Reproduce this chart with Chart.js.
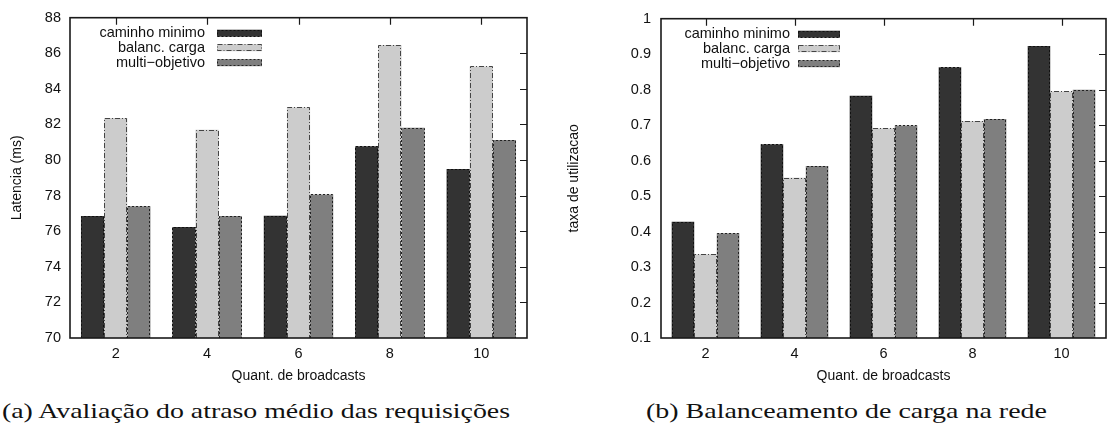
<!DOCTYPE html>
<html><head><meta charset="utf-8">
<script src="https://cdn.jsdelivr.net/npm/chart.js@4/dist/chart.umd.min.js"></script>
<style>
html,body{margin:0;padding:0;background:#fff}
body{width:1107px;height:428px;overflow:hidden;position:relative}
#c1{position:absolute;left:0;top:0}
#c2{position:absolute;left:555px;top:0}
.cap{position:absolute;top:401px;font-family:"Liberation Serif","Times New Roman",serif;font-size:21px;line-height:21px;color:#111;white-space:nowrap;transform-origin:0 0}
</style></head><body>
<canvas id="c1" width="545" height="390"></canvas>
<canvas id="c2" width="552" height="390"></canvas>
<div class="cap" id="capA">(a) Avaliação do atraso médio das requisições</div>
<div class="cap" id="capB">(b) Balanceamento de carga na rede</div>
<script>
// ---- data ----
const categories = ['2', '4', '6', '8', '10'];
const seriesNames = ['caminho minimo', 'balanc. carga', 'multi\u2212objetivo'];
const latCaminho = [76.85, 76.24, 76.87, 80.78, 79.50];
const latBalanc  = [82.37, 81.70, 82.97, 86.47, 85.26];
const latMulti   = [77.41, 76.85, 78.07, 81.81, 81.13];
const taxaCaminho = [0.428, 0.646, 0.783, 0.863, 0.923];
const taxaBalanc  = [0.336, 0.552, 0.691, 0.712, 0.795];
const taxaMulti   = [0.395, 0.585, 0.699, 0.717, 0.800];
const latTickLabels  = ['70','72','74','76','78','80','82','84','86','88'];
const taxaTickLabels = ['0.1','0.2','0.3','0.4','0.5','0.6','0.7','0.8','0.9','1'];

const FONT = '"Liberation Sans", Arial, Helvetica, sans-serif';
const fills = ['#333333', '#cccccc', '#7f7f7f'];
const dashes = [[2, 2], [5, 2, 1, 2], [2, 2]];
const dashColors = ['#111111', '#444444', '#222222'];

function makeDatasets(arrs) {
  return arrs.map((d, i) => ({
    label: seriesNames[i], data: d, backgroundColor: fills[i], borderWidth: 0,
    categoryPercentage: 0.76, barPercentage: 1.0
  }));
}

const gnuplotPlugin = {
  id: 'gnuplotLook',
  afterDatasetsDraw(chart) {
    const ctx = chart.ctx, a = chart.chartArea;
    chart.data.datasets.forEach((ds, i) => {
      const meta = chart.getDatasetMeta(i);
      ctx.save();
      ctx.strokeStyle = dashColors[i]; ctx.lineWidth = 1; ctx.setLineDash(dashes[i]);
      meta.data.forEach(el => {
        const p = el.getProps(['x', 'y', 'base', 'width'], true);
        const base = Math.min(p.base, a.bottom);
        const l = Math.round(p.x - p.width / 2) + 0.5, r = Math.round(p.x + p.width / 2) - 0.5;
        const t = Math.round(p.y) + 0.5;
        ctx.beginPath(); ctx.moveTo(l, base); ctx.lineTo(l, t); ctx.lineTo(r, t); ctx.lineTo(r, base); ctx.stroke();
      });
      ctx.restore();
    });
  },
  afterDraw(chart, args, opts) {
    const ctx = chart.ctx, a = chart.chartArea;
    const xs = chart.scales.x, ys = chart.scales.y;
    ctx.save();
    ctx.strokeStyle = '#1a1a1a'; ctx.lineWidth = 1.6; ctx.setLineDash([]);
    ctx.strokeRect(a.left, a.top, a.right - a.left, a.bottom - a.top);
    ctx.lineWidth = 1.2;
    ctx.beginPath();
    xs.ticks.forEach((t, i) => {
      const x = Math.round(xs.getPixelForTick(i)) + 0.5;
      ctx.moveTo(x, a.top); ctx.lineTo(x, a.top + 7);
    });
    ys.ticks.forEach((t, i) => {
      if (i === 0 || i === ys.ticks.length - 1) return;
      const y = Math.round(ys.getPixelForTick(i)) + 0.5;
      ctx.moveTo(a.right, y); ctx.lineTo(a.right - 7, y);
    });
    ctx.stroke();
    // legend
    ctx.font = '14.5px ' + FONT; ctx.fillStyle = '#111'; ctx.textAlign = 'right'; ctx.textBaseline = 'middle';
    chart.data.datasets.forEach((ds, i) => {
      const yc = a.top + opts.rowY[i];
      ctx.fillText(ds.label, a.left + opts.textRight, yc);
      const bx = a.left + opts.boxLeft, bw = opts.boxW, bh = 7;
      ctx.fillStyle = fills[i];
      ctx.fillRect(bx, yc - bh / 2, bw, bh);
      ctx.save();
      ctx.strokeStyle = dashColors[i]; ctx.lineWidth = 1; ctx.setLineDash(dashes[i]);
      ctx.strokeRect(Math.round(bx) + 0.5, Math.round(yc - bh / 2) + 0.5, bw - 1, bh - 1);
      ctx.restore();
      ctx.fillStyle = '#111';
    });
    ctx.restore();
  }
};

function makeChart(id, arrs, cfg) {
  return new Chart(document.getElementById(id), {
    type: 'bar',
    data: { labels: categories, datasets: makeDatasets(arrs) },
    plugins: [gnuplotPlugin],
    options: {
      responsive: false, animation: false, devicePixelRatio: 1,
      layout: { padding: { top: 15, right: cfg.padRight, left: 0, bottom: 0 } },
      plugins: { legend: { display: false }, tooltip: { enabled: false }, gnuplotLook: cfg.legend },
      scales: {
        x: {
          offset: true,
          grid: { display: false, drawTicks: false },
          border: { display: false },
          ticks: { color: '#111', font: { family: FONT, size: 14.5 }, padding: 7, maxRotation: 0 },
          title: { display: true, text: 'Quant. de broadcasts', color: '#111', font: { family: FONT, size: 14 }, padding: { top: 0, bottom: 5 } },
          afterFit(s) { s.height = 52; }
        },
        y: {
          min: cfg.min, max: cfg.max,
          grid: { display: false, drawTicks: false },
          border: { display: false },
          ticks: { stepSize: cfg.step, color: '#111', font: { family: FONT, size: 14.5 }, padding: cfg.tickPad,
                   callback: (v, i) => cfg.tickLabels[i] },
          title: { display: true, text: cfg.ytitle, color: '#111', font: { family: FONT, size: 14 }, padding: { top: cfg.titlePad, bottom: 0 } },
          afterFit(s) { s.width = cfg.yWidth; }
        }
      }
    }
  });
}

makeChart('c1', [latCaminho, latBalanc, latMulti], {
  min: 70, max: 88, step: 2, tickLabels: latTickLabels, ytitle: 'Latencia (ms)',
  yWidth: 70, padRight: 18, tickPad: 9, titlePad: 9,
  legend: { textRight: 135, boxLeft: 147, boxW: 45, rowY: [15.5, 30, 45] }
});
makeChart('c2', [taxaCaminho, taxaBalanc, taxaMulti], {
  min: 0.1, max: 1.0, step: 0.1, tickLabels: taxaTickLabels, ytitle: 'taxa de utilizacao',
  yWidth: 106, padRight: 1, tickPad: 10, titlePad: 11,
  legend: { textRight: 129, boxLeft: 137, boxW: 42, rowY: [15.5, 30, 45] }
});

function fitCaption(id, left, width) {
  const el = document.getElementById(id);
  const w = el.getBoundingClientRect().width;
  el.style.left = left + 'px';
  el.style.transform = 'scaleX(' + (width / w) + ')';
}
fitCaption('capA', 2, 508);
fitCaption('capB', 646, 401);
</script>
</body></html>
